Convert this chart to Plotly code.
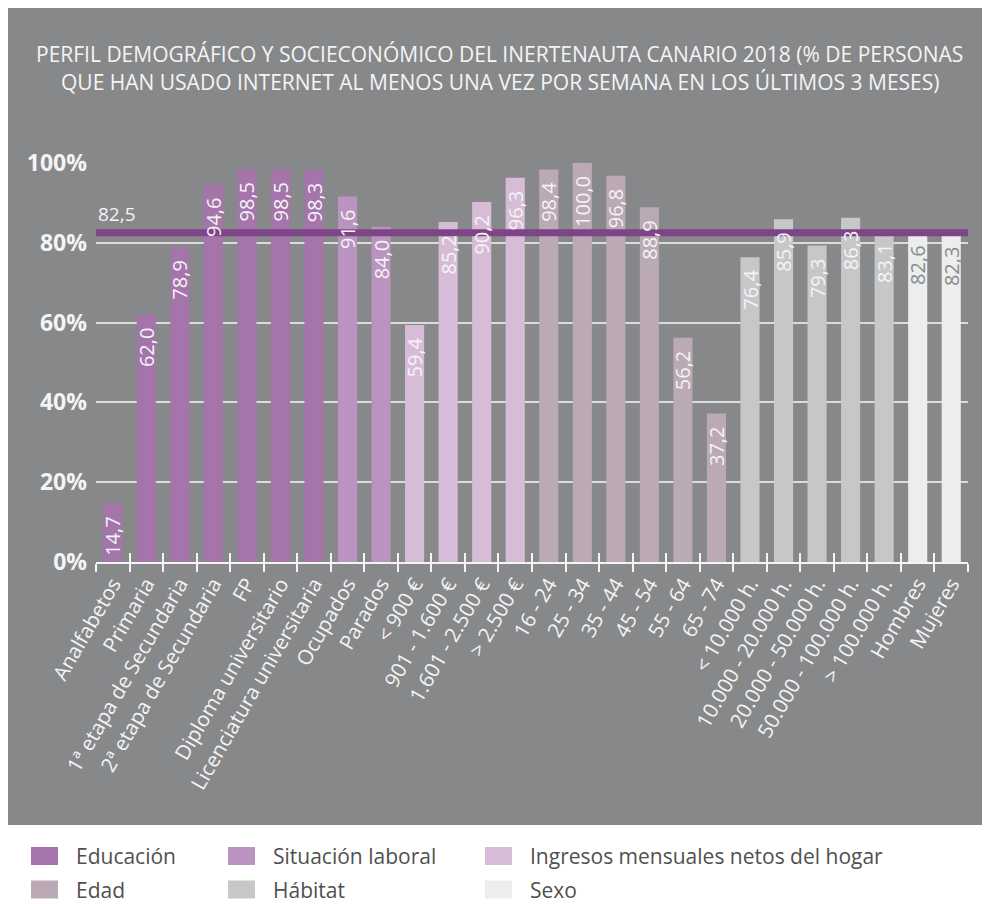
import plotly.graph_objects as go

TITLE_1 = "PERFIL DEMOGRÁFICO Y SOCIECONÓMICO DEL INERTENAUTA CANARIO 2018 (% DE PERSONAS"
TITLE_2 = "QUE HAN USADO INTERNET AL MENOS UNA VEZ POR SEMANA EN LOS ÚLTIMOS 3 MESES)"

GROUPS = ["Educación", "Situación laboral", "Ingresos mensuales netos del hogar",
          "Edad", "Hábitat", "Sexo"]

educacion_cats = ["Analfabetos", "Primaria", "1ª etapa de Secundaria", "2ª etapa de Secundaria",
                  "FP", "Diploma universitario", "Licenciatura universitaria"]
educacion_vals = [14.7, 62.0, 78.9, 94.6, 98.5, 98.5, 98.3]

laboral_cats = ["Ocupados", "Parados"]
laboral_vals = [91.6, 84.0]

ingresos_cats = ["< 900 €", "901 - 1.600 €", "1.601 - 2.500 €", "> 2.500 €"]
ingresos_vals = [59.4, 85.2, 90.2, 96.3]

edad_cats = ["16 - 24", "25 - 34", "35 - 44", "45 - 54", "55 - 64", "65 - 74"]
edad_vals = [98.4, 100.0, 96.8, 88.9, 56.2, 37.2]

habitat_cats = ["< 10.000 h.", "10.000 - 20.000 h.", "20.000 - 50.000 h.",
                "50.000 - 100.000 h.", "> 100.000 h."]
habitat_vals = [76.4, 85.9, 79.3, 86.3, 83.1]

sexo_cats = ["Hombres", "Mujeres"]
sexo_vals = [82.6, 82.3]

AVERAGE = 82.5

COLORS = ["#a474ab", "#bb93c0", "#d7bcd8", "#bba9b5", "#c6c7c9", "#eceeed"]
LIGHT = "#f4f4f4"
TEXT_COLORS = [LIGHT, LIGHT, LIGHT, LIGHT, LIGHT, "#8a8b8d"]

series = [
    (educacion_cats, educacion_vals),
    (laboral_cats, laboral_vals),
    (ingresos_cats, ingresos_vals),
    (edad_cats, edad_vals),
    (habitat_cats, habitat_vals),
    (sexo_cats, sexo_vals),
]
all_cats = [c for cats, _ in series for c in cats]

FONT = "Open Sans, sans-serif"
BG = "#87888a"

# figure geometry (pixels); the page places the figure 8px from the top-left corner
OFF = 8
W, H = 990, 904
L, R, T, B = 88, 30, 155, 350
PW, PH = W - L - R, H - T - B


def px(x):
    return (x - OFF - L) / PW


def py(y):
    return (H - B - (y - OFF)) / PH


fig = go.Figure()

# coloured bars
for (cats, vals), name, col in zip(series, GROUPS, COLORS):
    fig.add_trace(go.Bar(
        x=cats, y=vals, name=name, marker=dict(color=col, line=dict(width=0)),
        showlegend=False, hoverinfo="x+y",
    ))

# average line (drawn above bars)
fig.add_trace(go.Scatter(x=[0, 1], y=[AVERAGE, AVERAGE], xaxis="x2", mode="lines",
                         line=dict(color="#7f4387", width=7), showlegend=False,
                         hoverinfo="skip"))

# value labels (drawn above the average line)
for (cats, vals), tcol in zip(series, TEXT_COLORS):
    fig.add_trace(go.Bar(
        x=cats, y=vals, xaxis="x3", marker=dict(color="rgba(0,0,0,0)", line=dict(width=0)),
        texttemplate="%{y:.1f}\u2002", textposition="inside", insidetextanchor="end",
        textangle=-90, constraintext="none",
        textfont=dict(family=FONT, size=20, color=tcol),
        showlegend=False, hoverinfo="skip",
    ))

fig.add_annotation(xref="paper", x=0, yref="y", y=AVERAGE, xanchor="left", yanchor="bottom",
                   yshift=4, text=f"{AVERAGE:.1f}".replace(".", ","), showarrow=False,
                   font=dict(family=FONT, size=19, color=LIGHT))

# gray backdrop
fig.add_shape(type="rect", xref="paper", yref="paper", x0=px(8), x1=px(983),
              y0=py(825), y1=py(4), fillcolor=BG, line=dict(width=0), layer="below")

# title
for txt, yy in [(TITLE_1, 54), (TITLE_2, 82)]:
    fig.add_annotation(xref="paper", yref="paper", x=px(499.5), y=py(yy), text=txt,
                       showarrow=False, xanchor="center", yanchor="middle",
                       font=dict(family=FONT, size=21, color=LIGHT))

# legend (3 columns x 2 rows)
COL_X = [31, 228, 485]
ROW_Y = [856, 889.5]
for i, (name, col) in enumerate(zip(GROUPS, COLORS)):
    cx, cy = COL_X[i % 3], ROW_Y[i // 3]
    fig.add_shape(type="rect", xref="paper", yref="paper",
                  x0=px(cx), x1=px(cx + 27), y0=py(cy + 9), y1=py(cy - 9),
                  fillcolor=col, line=dict(width=0))
    fig.add_annotation(xref="paper", yref="paper", x=px(cx + 43), y=py(cy),
                       xanchor="left", yanchor="middle", text=name, showarrow=False,
                       font=dict(family=FONT, size=21, color="#505050"))

fig.update_layout(
    width=W, height=H,
    margin=dict(l=L, r=R, t=T, b=B, autoexpand=False),
    paper_bgcolor="white", plot_bgcolor=BG,
    separators=",.",
    barmode="overlay", bargap=0.43,
    font=dict(family=FONT, color=LIGHT),
    showlegend=False,
    xaxis=dict(type="category", categoryorder="array", categoryarray=all_cats,
               tickson="boundaries", ticks="outside", ticklen=8, tickwidth=2, tickcolor=LIGHT,
               showline=True, linecolor=LIGHT, linewidth=2, showgrid=False,
               tickangle=-60, tickfont=dict(family=FONT, size=20.5, color=LIGHT),
               range=[-0.5, len(all_cats) - 0.5], automargin=False),
    xaxis2=dict(type="linear", range=[0, 1], overlaying="x", anchor="y", visible=False),
    xaxis3=dict(type="category", categoryorder="array", categoryarray=all_cats,
                overlaying="x", matches="x", anchor="y", side="bottom",
                tickson="boundaries", ticks="inside", ticklen=9, tickwidth=2, tickcolor=LIGHT,
                showticklabels=False, showline=False, showgrid=False, automargin=False),
    yaxis=dict(range=[0, 100], dtick=20, ticksuffix="%", showgrid=True,
               gridcolor="#dcdcdc", gridwidth=1.5, zeroline=False, showline=False,
               tickfont=dict(family=FONT, size=23, color=LIGHT, weight="bold"),
               ticklabelstandoff=8, automargin=False),
)

fig.write_html("out.html")
